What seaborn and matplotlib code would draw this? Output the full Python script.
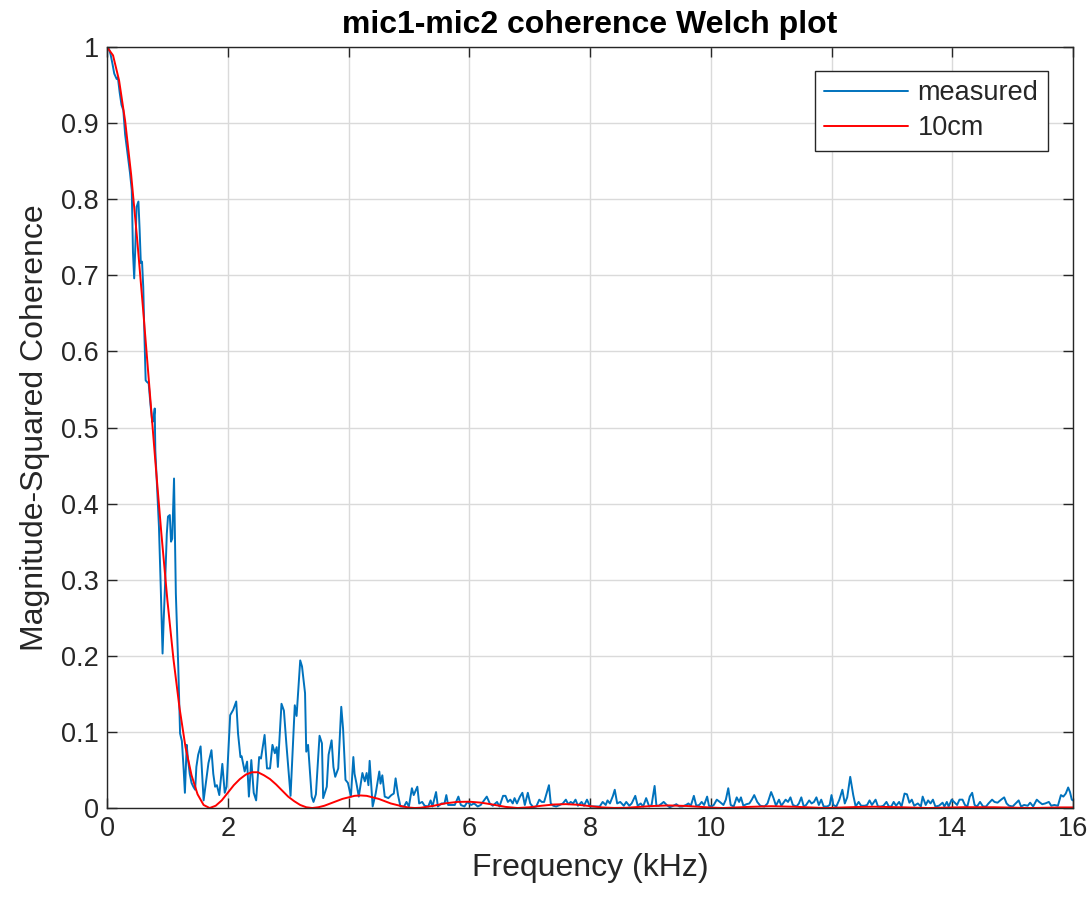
import numpy as np
import pandas as pd
import matplotlib
matplotlib.use("Agg")
import matplotlib.pyplot as plt
import seaborn as sns

# ---------------- data ----------------
meas_freq_khz = [
    0.00, 0.03, 0.06, 0.09, 0.12, 0.16, 0.18, 0.21, 0.24, 0.27,
    0.30, 0.34, 0.38, 0.41, 0.43, 0.45, 0.47, 0.49, 0.52, 0.54,
    0.56, 0.58, 0.60, 0.62, 0.64, 0.66, 0.69, 0.72, 0.75, 0.77,
    0.79, 0.80, 0.83, 0.86, 0.89, 0.92, 0.94, 0.96, 0.99, 1.01,
    1.04, 1.06, 1.08, 1.11, 1.14, 1.18, 1.21, 1.24, 1.27, 1.29,
    1.32, 1.34, 1.37, 1.40, 1.43, 1.46, 1.48, 1.51, 1.55, 1.60,
    1.64, 1.68, 1.73, 1.76, 1.79, 1.82, 1.86, 1.91, 1.95, 1.98,
    2.04, 2.09, 2.14, 2.17, 2.21, 2.23, 2.28, 2.32, 2.35, 2.39,
    2.43, 2.47, 2.52, 2.55, 2.61, 2.65, 2.70, 2.74, 2.78, 2.81,
    2.83, 2.89, 2.93, 2.97, 3.04, 3.11, 3.14, 3.20, 3.23, 3.28,
    3.30, 3.33, 3.39, 3.42, 3.46, 3.52, 3.56, 3.58, 3.64, 3.67,
    3.72, 3.75, 3.78, 3.83, 3.88, 3.91, 3.95, 3.99, 4.04, 4.08,
    4.10, 4.13, 4.17, 4.23, 4.27, 4.30, 4.33, 4.35, 4.40, 4.45,
    4.51, 4.53, 4.56, 4.60, 4.66, 4.71, 4.75, 4.78, 4.82, 4.86,
    4.92, 4.96, 5.00, 5.05, 5.08, 5.14, 5.17, 5.22, 5.26, 5.32,
    5.36, 5.39, 5.45, 5.48, 5.54, 5.59, 5.62, 5.65, 5.70, 5.76,
    5.82, 5.86, 5.92, 5.97, 6.03, 6.08, 6.14, 6.19, 6.29, 6.34,
    6.39, 6.46, 6.50, 6.56, 6.60, 6.64, 6.68, 6.72, 6.75, 6.79,
    6.84, 6.88, 6.92, 6.97, 7.01, 7.06, 7.11, 7.16, 7.20, 7.24,
    7.28, 7.32, 7.35, 7.39, 7.44, 7.50, 7.55, 7.60, 7.64, 7.68,
    7.72, 7.76, 7.80, 7.86, 7.90, 7.95, 8.00, 8.05, 8.11, 8.16,
    8.21, 8.26, 8.29, 8.33, 8.38, 8.41, 8.45, 8.50, 8.56, 8.60,
    8.65, 8.69, 8.75, 8.79, 8.84, 8.88, 8.93, 8.98, 9.02, 9.07,
    9.10, 9.14, 9.19, 9.22, 9.27, 9.32, 9.38, 9.43, 9.48, 9.53,
    9.59, 9.63, 9.67, 9.72, 9.76, 9.81, 9.85, 9.89, 9.94, 9.97,
    10.01, 10.05, 10.10, 10.15, 10.21, 10.25, 10.29, 10.33, 10.38, 10.43,
    10.47, 10.50, 10.54, 10.59, 10.64, 10.68, 10.72, 10.77, 10.82, 10.89,
    10.94, 11.00, 11.04, 11.08, 11.13, 11.17, 11.24, 11.28, 11.32, 11.36,
    11.42, 11.46, 11.50, 11.54, 11.58, 11.63, 11.67, 11.71, 11.75, 11.79,
    11.83, 11.87, 11.93, 11.97, 12.00, 12.03, 12.08, 12.13, 12.18, 12.22,
    12.26, 12.31, 12.36, 12.40, 12.45, 12.49, 12.55, 12.59, 12.63, 12.67,
    12.73, 12.77, 12.82, 12.86, 12.91, 12.95, 12.99, 13.03, 13.07, 13.12,
    13.16, 13.21, 13.25, 13.29, 13.33, 13.37, 13.43, 13.48, 13.51, 13.56,
    13.60, 13.64, 13.68, 13.72, 13.78, 13.84, 13.87, 13.91, 13.94, 13.99,
    14.03, 14.08, 14.12, 14.17, 14.21, 14.25, 14.29, 14.33, 14.37, 14.41,
    14.46, 14.51, 14.56, 14.60, 14.66, 14.70, 14.75, 14.81, 14.86, 14.90,
    14.94, 15.00, 15.05, 15.10, 15.14, 15.19, 15.25, 15.29, 15.34, 15.40,
    15.44, 15.49, 15.54, 15.60, 15.64, 15.69, 15.75, 15.80, 15.84, 15.88,
    15.92, 15.95, 15.98, 16.00,
]
meas_coherence = [
    1.000, 0.998, 0.990, 0.978, 0.965, 0.958, 0.960, 0.940, 0.924, 0.917,
    0.885, 0.860, 0.835, 0.812, 0.730, 0.696, 0.740, 0.790, 0.797, 0.760,
    0.716, 0.718, 0.685, 0.620, 0.562, 0.560, 0.558, 0.530, 0.507, 0.510,
    0.525, 0.470, 0.420, 0.370, 0.290, 0.203, 0.250, 0.290, 0.360, 0.383,
    0.385, 0.350, 0.354, 0.433, 0.282, 0.186, 0.098, 0.088, 0.050, 0.020,
    0.083, 0.065, 0.045, 0.033, 0.028, 0.024, 0.054, 0.070, 0.081, 0.010,
    0.035, 0.059, 0.076, 0.045, 0.028, 0.030, 0.017, 0.058, 0.020, 0.028,
    0.122, 0.129, 0.140, 0.098, 0.067, 0.068, 0.048, 0.061, 0.015, 0.063,
    0.020, 0.010, 0.067, 0.065, 0.096, 0.052, 0.052, 0.083, 0.072, 0.080,
    0.054, 0.137, 0.128, 0.085, 0.016, 0.135, 0.121, 0.194, 0.186, 0.151,
    0.074, 0.083, 0.015, 0.008, 0.018, 0.095, 0.085, 0.013, 0.028, 0.070,
    0.089, 0.054, 0.041, 0.052, 0.133, 0.104, 0.037, 0.033, 0.015, 0.067,
    0.045, 0.033, 0.015, 0.046, 0.035, 0.046, 0.030, 0.062, 0.002, 0.019,
    0.048, 0.032, 0.043, 0.015, 0.013, 0.017, 0.019, 0.039, 0.017, 0.002,
    0.002, 0.008, 0.002, 0.026, 0.017, 0.028, 0.006, 0.008, 0.003, 0.002,
    0.010, 0.002, 0.021, 0.002, 0.006, 0.006, 0.017, 0.004, 0.004, 0.004,
    0.015, 0.004, 0.002, 0.008, 0.004, 0.006, 0.002, 0.004, 0.015, 0.006,
    0.003, 0.008, 0.002, 0.016, 0.016, 0.008, 0.011, 0.006, 0.013, 0.006,
    0.015, 0.020, 0.004, 0.020, 0.006, 0.001, 0.002, 0.011, 0.008, 0.008,
    0.019, 0.030, 0.006, 0.003, 0.002, 0.004, 0.006, 0.011, 0.005, 0.008,
    0.006, 0.011, 0.003, 0.008, 0.003, 0.011, 0.002, 0.002, 0.002, 0.002,
    0.008, 0.004, 0.010, 0.006, 0.016, 0.024, 0.006, 0.008, 0.003, 0.008,
    0.003, 0.006, 0.016, 0.003, 0.006, 0.002, 0.013, 0.002, 0.004, 0.029,
    0.003, 0.003, 0.006, 0.008, 0.004, 0.001, 0.003, 0.005, 0.002, 0.002,
    0.004, 0.006, 0.003, 0.016, 0.003, 0.004, 0.008, 0.004, 0.015, 0.003,
    0.002, 0.004, 0.011, 0.008, 0.004, 0.011, 0.026, 0.004, 0.002, 0.014,
    0.008, 0.014, 0.003, 0.005, 0.006, 0.011, 0.017, 0.008, 0.003, 0.002,
    0.006, 0.021, 0.013, 0.003, 0.011, 0.003, 0.011, 0.008, 0.014, 0.004,
    0.002, 0.006, 0.014, 0.002, 0.004, 0.010, 0.006, 0.008, 0.014, 0.004,
    0.011, 0.002, 0.002, 0.004, 0.017, 0.004, 0.002, 0.011, 0.024, 0.006,
    0.014, 0.041, 0.017, 0.002, 0.008, 0.003, 0.003, 0.004, 0.010, 0.004,
    0.011, 0.002, 0.002, 0.003, 0.008, 0.002, 0.002, 0.008, 0.003, 0.008,
    0.002, 0.019, 0.018, 0.007, 0.011, 0.003, 0.006, 0.002, 0.015, 0.004,
    0.010, 0.006, 0.011, 0.002, 0.003, 0.007, 0.002, 0.008, 0.002, 0.011,
    0.008, 0.004, 0.011, 0.011, 0.004, 0.002, 0.015, 0.020, 0.004, 0.002,
    0.008, 0.002, 0.002, 0.006, 0.011, 0.008, 0.007, 0.011, 0.014, 0.006,
    0.003, 0.002, 0.006, 0.010, 0.002, 0.004, 0.003, 0.007, 0.002, 0.011,
    0.008, 0.005, 0.006, 0.008, 0.003, 0.004, 0.003, 0.017, 0.015, 0.019,
    0.027, 0.021, 0.011, 0.010,
]

model_freq_khz = [
    0.0, 0.1, 0.2, 0.3, 0.4, 0.5, 0.6, 0.7, 0.8, 0.9,
    1.0, 1.1, 1.2, 1.3, 1.4, 1.5, 1.6, 1.7, 1.8, 1.9,
    2.0, 2.1, 2.2, 2.3, 2.4, 2.5, 2.6, 2.7, 2.8, 2.9,
    3.0, 3.1, 3.2, 3.3, 3.4, 3.5, 3.6, 3.7, 3.8, 3.9,
    4.0, 4.1, 4.2, 4.3, 4.4, 4.5, 4.6, 4.7, 4.8, 4.9,
    5.0, 5.1, 5.2, 5.4, 5.6, 5.8, 6.0, 6.2, 6.4, 6.6,
    6.8, 7.0, 7.2, 7.4, 7.6, 7.8, 8.0, 8.2, 8.4, 8.6,
    9.0, 9.3, 9.6, 10.0, 10.2, 10.6, 11.0, 11.4, 11.9, 12.4,
    12.7, 13.2, 13.6, 14.2, 14.7, 15.3, 15.8, 16.0,
]
model_coherence = [
    1.000, 0.989, 0.956, 0.903, 0.832, 0.747, 0.653, 0.555, 0.456, 0.361,
    0.273, 0.196, 0.132, 0.080, 0.043, 0.018, 0.004, 0.000, 0.003, 0.010,
    0.020, 0.030, 0.038, 0.044, 0.047, 0.047, 0.043, 0.038, 0.031, 0.023,
    0.015, 0.009, 0.004, 0.001, 0.000, 0.001, 0.003, 0.006, 0.009, 0.012,
    0.014, 0.016, 0.0165, 0.016, 0.014, 0.012, 0.009, 0.006, 0.004, 0.002,
    0.0006, 0.0000, 0.0004, 0.0028, 0.0061, 0.0080, 0.0083, 0.0070, 0.0044, 0.0015,
    0.0000, 0.0010, 0.0030, 0.0046, 0.0051, 0.0043, 0.0025, 0.0008, 0.0001, 0.0003,
    0.0025, 0.0034, 0.0027, 0.0006, 0.0000, 0.0014, 0.0024, 0.0016, 0.0000, 0.0013,
    0.0017, 0.0009, 0.0000, 0.0011, 0.0010, 0.0000, 0.0008, 0.0008,
]

series_names = ["measured", "10cm"]
x_ticks = [0, 2, 4, 6, 8, 10, 12, 14, 16]
y_ticks = [0, 0.1, 0.2, 0.3, 0.4, 0.5, 0.6, 0.7, 0.8, 0.9, 1.0]
y_tick_labels = ["0", "0.1", "0.2", "0.3", "0.4", "0.5", "0.6", "0.7", "0.8", "0.9", "1"]

# ---------------- styling ----------------
sns.set_style("whitegrid")
plt.rcParams["font.family"] = ["Liberation Sans", "DejaVu Sans"]

df_meas = pd.DataFrame({"f": meas_freq_khz, "c": meas_coherence})
df_model = pd.DataFrame({"f": model_freq_khz, "c": model_coherence})

fig = plt.figure(figsize=(10.92, 9.01), dpi=100)
ax = fig.add_axes([0.098, 0.1032, 0.8846, 0.8446])

sns.lineplot(data=df_meas, x="f", y="c", ax=ax, color="#0072BD", lw=1.4,
             estimator=None, sort=False, label=series_names[0])
sns.lineplot(data=df_model, x="f", y="c", ax=ax, color="#FF0000", lw=1.4,
             estimator=None, sort=False, label=series_names[1])

ax.set_xlim(0, 16)
ax.set_ylim(0, 1)
ax.set_xticks(x_ticks)
ax.set_xticklabels([str(t) for t in x_ticks])
ax.set_yticks(y_ticks)
ax.set_yticklabels(y_tick_labels)

ax.grid(True, color="#DADADA", lw=1.0)
ax.set_facecolor("white")
for s in ax.spines.values():
    s.set_visible(True)
    s.set_color("#262626")
    s.set_linewidth(1.0)

ax.tick_params(axis="both", which="major", direction="in", length=7, width=1.0,
               color="#262626", labelsize=19.5, labelcolor="#262626",
               top=True, right=True, bottom=True, left=True, pad=6)

ax.set_xlabel("Frequency (kHz)", fontsize=23, color="#262626", labelpad=8)
ax.set_ylabel("Magnitude-Squared Coherence", fontsize=23, color="#262626", labelpad=8)
ax.set_title("mic1-mic2 coherence Welch plot", fontsize=23, fontweight="bold",
             color="black", pad=10)

leg = ax.legend(loc="upper right", bbox_to_anchor=(0.974, 0.9685), borderaxespad=0,
                fontsize=19.5, frameon=True, fancybox=False, framealpha=1,
                edgecolor="#262626", handlelength=3.1, handletextpad=0.35,
                labelspacing=0.32, borderpad=0.35)
leg.get_frame().set_linewidth(1.0)
for t in leg.get_texts():
    t.set_color("#262626")

fig.savefig("out.png", dpi=100, facecolor="white")
